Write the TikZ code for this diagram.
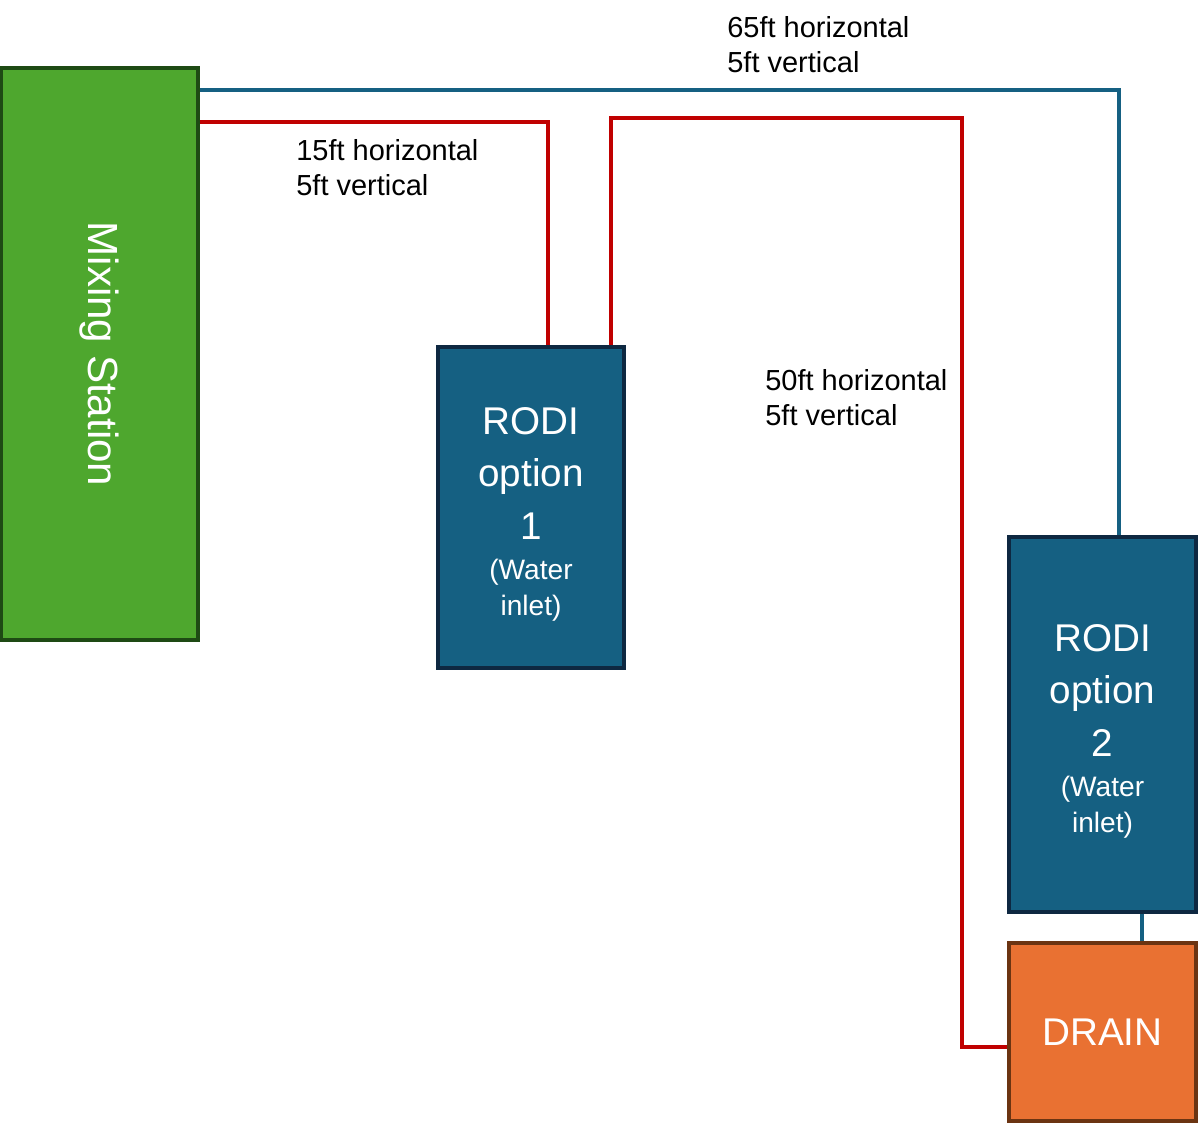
\documentclass[tikz,border=0pt]{standalone}
\usepackage{fontspec}
\setmainfont{Liberation Sans}
\usetikzlibrary{positioning,calc}
\definecolor{mixgreen}{HTML}{4EA72E}
\definecolor{mixedge}{HTML}{1E4A14}
\definecolor{rodiblue}{HTML}{156082}
\definecolor{rodiedge}{HTML}{0E2841}
\definecolor{drainorange}{HTML}{E97132}
\definecolor{drainedge}{HTML}{6B3412}
\definecolor{pipered}{HTML}{C00000}

\begin{document}
\begin{tikzpicture}[x=0.02cm, y=-0.02cm,
    box/.style={draw, line width=2pt, inner sep=0pt, text=white, align=center, font=\fontsize{22}{30}\selectfont},
    note/.style={anchor=north west, inner sep=0pt, align=left, font=\fontsize{16.5}{19.8}\selectfont},
    redpipe/.style={pipered, line width=2pt},
    bluepipe/.style={rodiblue, line width=2pt},
]
\useasboundingbox (0,0) rectangle (1200,1124);

% Stations
\node[box, fill=mixgreen, draw=mixedge, minimum width=3.94cm, minimum height=11.44cm] (mix) at (99.5,354) {\rotatebox{-90}{\fontsize{24}{28}\selectfont Mixing Station}};
\node[box, fill=rodiblue, draw=rodiedge, minimum width=3.72cm, minimum height=6.42cm] (rodi1) at (531,507.5) {\rule{0pt}{22.8pt}RODI\\option\\1\\[-7pt]{\fontsize{16}{20}\selectfont (Water}\\[-10pt]{\fontsize{16}{20}\selectfont inlet)}};
\node[box, fill=rodiblue, draw=rodiedge, minimum width=3.74cm, minimum height=7.5cm] (rodi2) at (1102.5,724.5) {\rule{0pt}{22.8pt}RODI\\option\\2\\[-7pt]{\fontsize{16}{20}\selectfont (Water}\\[-10pt]{\fontsize{16}{20}\selectfont inlet)}};
\node[box, fill=drainorange, draw=drainedge, minimum width=3.74cm, minimum height=3.56cm] (drain) at (1102.5,1032) {DRAIN};

% Pipe lengths
\node[note] (len65) at (727,16) {65ft horizontal\\5ft vertical};
\node[note] (len15) at (296,139) {15ft horizontal\\5ft vertical};
\node[note] (len50) at (765,369) {50ft horizontal\\5ft vertical};

% Pipes
\draw[bluepipe] (mix.east |- 0,90) -| ([xshift=0.33cm]rodi2.north);
\draw[redpipe] (mix.east |- 0,122) -| ([xshift=0.34cm]rodi1.north);
\draw[redpipe] ([xshift=1.6cm]rodi1.north) |- (962,118) |- ([yshift=-0.3cm]drain.west);
\draw[bluepipe] ([xshift=0.79cm]rodi2.south) -- ([xshift=0.79cm]drain.north);
\end{tikzpicture}
\end{document}
